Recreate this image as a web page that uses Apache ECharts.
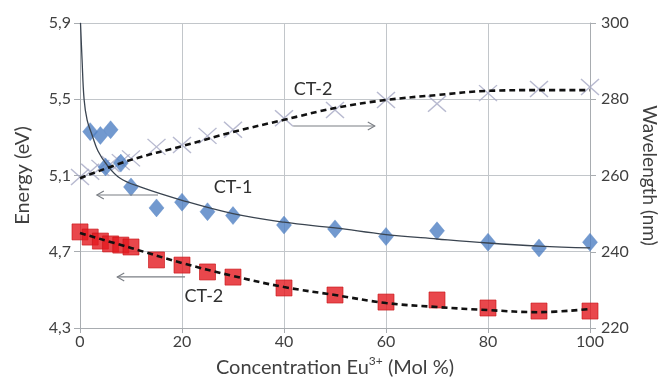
<!DOCTYPE html>
<html><head><meta charset="utf-8">
<script src="https://cdn.jsdelivr.net/npm/echarts@6/dist/echarts.min.js"></script>
<style>html,body{margin:0;padding:0;background:#fff}#c{width:661px;height:383px}</style>
</head><body><div id="c"></div>
<script>
// ---- data ----
const xTicks = [0, 20, 40, 60, 80, 100];
const energyTicks = [4.3, 4.7, 5.1, 5.5, 5.9];
const wavelengthTicks = [220, 240, 260, 280, 300];

// CT-1 (blue diamonds, energy)
const ct1X = [2, 4, 6, 5, 8, 10, 15, 20, 25, 30, 40, 50, 60, 70, 80, 90, 100];
const ct1E = [5.33, 5.31, 5.34, 5.145, 5.165, 5.04, 4.93, 4.96, 4.91, 4.89, 4.84, 4.82, 4.78, 4.81, 4.75, 4.72, 4.75];
// CT-1 trend line
const ct1FitX = [0.1, 0.4, 0.8, 1.4, 2.4, 3.5, 5.3, 7.8, 11.8, 20, 30, 40, 50, 60, 70, 80, 90, 100];
const ct1FitE = [5.90, 5.71, 5.50, 5.39, 5.31, 5.23, 5.155, 5.087, 5.04, 4.97, 4.90, 4.855, 4.825, 4.79, 4.767, 4.746, 4.73, 4.72];

// CT-2 (red squares, energy)
const ct2X = [0, 2, 4, 6, 8, 10, 15, 20, 25, 30, 40, 50, 60, 70, 80, 90, 100];
const ct2E = [4.804, 4.777, 4.756, 4.741, 4.735, 4.725, 4.657, 4.63, 4.594, 4.567, 4.51, 4.473, 4.436, 4.447, 4.405, 4.389, 4.389];
const ct2FitX = [0, 10, 20, 30, 40, 50, 60, 70, 80, 90, 100];
const ct2FitE = [4.798, 4.72, 4.641, 4.573, 4.515, 4.473, 4.431, 4.41, 4.394, 4.383, 4.40];

// CT-2 wavelength (crosses, right axis)
const wlX = [0, 2, 4, 6, 8, 10, 15, 20, 25, 30, 40, 50, 60, 70, 80, 90, 100];
const wlNm = [259.6, 261, 262, 263, 263.5, 264.5, 267.5, 268, 270.4, 272, 275, 277.2, 279.8, 278.8, 281.6, 282.7, 283.2];
const wlFitX = [0, 10, 20, 30, 40, 50, 60, 70, 80, 90, 100];
const wlFitNm = [259.3, 264.1, 267.7, 271.4, 274.6, 277.7, 279.8, 281.1, 282.2, 282.4, 282.4];

// annotations
const annLabels = ['CT-2', 'CT-1', 'CT-2'];
const annTextX = [45.7, 30, 24.3];
const annTextE = [5.554, 5.04, 4.468];
const annArrowFrom = [41.8, 15.3, 20.6];
const annArrowTo = [57.8, 3.3, 7.3];
const annArrowE = [5.36, 4.998, 4.568];

const zip = (a, b) => a.map((v, i) => [v, b[i]]);
const FONT = 'Lato';
const TXT = '#404040';
const GRID = '#c2c6ca';

const chart = echarts.init(document.getElementById('c'), null, {renderer: 'canvas'});
const option = {
  backgroundColor: '#ffffff',
  animation: false,
  grid: {left: 80, right: 71, top: 23, bottom: 55, containLabel: false, outerBoundsMode: 'none'},
  xAxis: {
    type: 'value', min: xTicks[0], max: xTicks[xTicks.length - 1], interval: 20,
    name: 'Concentration Eu{sup|3+} (Mol %)', nameLocation: 'middle', nameGap: 19,
    nameTextStyle: {fontFamily: FONT, fontSize: 20, color: TXT, verticalAlign: 'top',
      rich: {sup: {fontFamily: FONT, fontSize: 12, color: TXT, verticalAlign: 'top', lineHeight: 26}}},
    axisLine: {show: true, lineStyle: {color: '#a8acb0'}},
    axisTick: {show: true, length: 5, lineStyle: {color: '#a8acb0'}},
    axisLabel: {fontFamily: FONT, fontSize: 16, color: TXT, margin: 6},
    splitLine: {show: true, lineStyle: {color: GRID}}
  },
  yAxis: [{
    type: 'value', min: energyTicks[0], max: energyTicks[energyTicks.length - 1], interval: 0.4,
    name: 'Energy (eV)', nameLocation: 'middle', nameGap: 47, nameRotate: 90,
    nameTextStyle: {fontFamily: FONT, fontSize: 20, color: TXT},
    axisLine: {show: true, lineStyle: {color: '#a8acb0'}},
    axisTick: {show: true, length: 6, lineStyle: {color: '#a8acb0'}},
    axisLabel: {fontFamily: FONT, fontSize: 16, color: TXT, margin: 9,
      formatter: v => v.toFixed(1).replace('.', ',')},
    splitLine: {show: true, lineStyle: {color: GRID}}
  }, {
    type: 'value', min: wavelengthTicks[0], max: wavelengthTicks[wavelengthTicks.length - 1], interval: 20,
    position: 'right',
    name: 'Wavelength (nm)', nameLocation: 'middle', nameGap: 48, nameRotate: -90,
    nameTextStyle: {fontFamily: FONT, fontSize: 19, color: TXT},
    axisLine: {show: true, lineStyle: {color: '#a8acb0'}},
    axisTick: {show: true, length: 6, lineStyle: {color: '#a8acb0'}},
    axisLabel: {fontFamily: FONT, fontSize: 16, color: TXT, margin: 11},
    splitLine: {show: false}
  }],
  series: [
    {type: 'scatter', name: 'CT-2 nm', yAxisIndex: 1, data: zip(wlX, wlNm), z: 2,
      symbol: 'path://M0 0L10 10M10 0L0 10', symbolSize: [18, 16],
      itemStyle: {color: 'none', borderColor: '#a6a9c4', borderWidth: 1.4}},
    {type: 'scatter', name: 'CT-1', data: zip(ct1X, ct1E), z: 3,
      symbol: 'diamond', symbolSize: [15, 18],
      itemStyle: {color: '#4f7fc3', borderColor: '#5a86c6', borderWidth: 0.5}},
    {type: 'scatter', name: 'CT-2', data: zip(ct2X, ct2E), z: 3,
      symbol: 'rect', symbolSize: 16,
      itemStyle: {color: '#e3191f', borderColor: '#c81418', borderWidth: 0.8}},
    {type: 'line', name: 'CT-1 fit', data: zip(ct1FitX, ct1FitE), z: 4, smooth: 0.4,
      showSymbol: false, lineStyle: {color: '#3a4450', width: 1.3}},
    {type: 'line', name: 'CT-2 fit', data: zip(ct2FitX, ct2FitE), z: 5, smooth: 0.4,
      showSymbol: false, lineStyle: {color: '#111', width: 2.6, type: [6, 4]}},
    {type: 'line', name: 'CT-2 nm fit', yAxisIndex: 1, data: zip(wlFitX, wlFitNm), z: 5, smooth: 0.4,
      showSymbol: false, lineStyle: {color: '#111', width: 2.6, type: [6, 4]}}
  ]
};
chart.setOption(option);

// annotations positioned in data coordinates
const gfx = [];
annLabels.forEach((lab, i) => {
  const t = chart.convertToPixel({xAxisIndex: 0, yAxisIndex: 0}, [annTextX[i], annTextE[i]]);
  const a0 = chart.convertToPixel({xAxisIndex: 0, yAxisIndex: 0}, [annArrowFrom[i], annArrowE[i]]);
  const a1 = chart.convertToPixel({xAxisIndex: 0, yAxisIndex: 0}, [annArrowTo[i], annArrowE[i]]);
  gfx.push({type: 'text', x: t[0], y: t[1], z: 10,
    style: {text: lab, fontFamily: FONT, fontSize: 18, fill: '#303030', align: 'center', verticalAlign: 'middle'}});
  gfx.push({type: 'line', z: 10, shape: {x1: a0[0], y1: a0[1], x2: a1[0], y2: a1[1]},
    style: {stroke: '#7a7e84', lineWidth: 1.1}});
  const dir = a1[0] > a0[0] ? 1 : -1;
  gfx.push({type: 'polyline', z: 10,
    shape: {points: [[a1[0] - dir * 7, a1[1] - 4], [a1[0], a1[1]], [a1[0] - dir * 7, a1[1] + 4]]},
    style: {stroke: '#7a7e84', lineWidth: 1.1, fill: null}});
});
chart.setOption({graphic: gfx});
</script>
</body></html>
